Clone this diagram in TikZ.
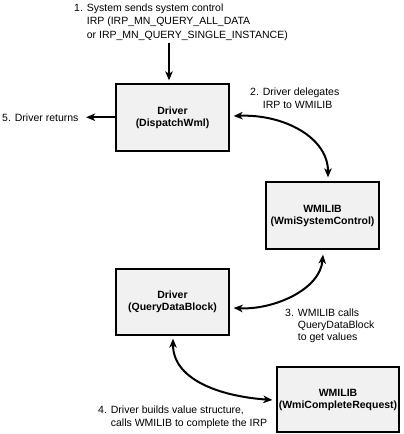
\documentclass[tikz,border=0pt]{standalone}
\usepackage{fontspec}
\setmainfont{Liberation Sans}
\usetikzlibrary{arrows.meta}
\definecolor{boxfill}{RGB}{241,241,241}
\tikzset{
  box/.style={draw=black, line width=1.3pt, fill=boxfill, inner sep=0pt, align=center,
    font=\fontsize{10.5}{12}\selectfont\bfseries},
  lbl/.style={inner sep=0pt, anchor=base west, align=left},
  arr/.style={line width=2pt, -{Stealth[length=9pt,width=7.5pt,inset=2.5pt]}},
  arrb/.style={line width=2pt, {Stealth[length=9pt,width=7.5pt,inset=2.5pt]}-{Stealth[length=9pt,width=7.5pt,inset=2.5pt]}}
}
\begin{document}
\begin{tikzpicture}[x=1pt,y=-1pt]
\useasboundingbox (0,0) rectangle (404,434);

% boxes
\node[box, minimum width=113pt, minimum height=67pt] (b1) at (172.5,117.5) {Driver\\(DispatchWml)};
\node[box, minimum width=113pt, minimum height=67pt] (b2) at (322.5,215.5) {WMILIB\\(WmiSystemControl)};
\node[box, minimum width=113pt, minimum height=66pt] (b3) at (172.5,302) {Driver\\(QueryDataBlock)};
\node[box, minimum width=122pt, minimum height=65pt] (b4) at (338,399.5) {WMILIB\\(WmiCompleteRequest)};

% labels (base anchor = baseline of the last line)
\node[lbl, font=\fontsize{10.5}{13.5}\selectfont] (t1) at (74,38)
  {1. System sends system control\\\hphantom{1. }IRP (IRP\_MN\_QUERY\_ALL\_DATA\\\hphantom{1. }or IRP\_MN\_QUERY\_SINGLE\_INSTANCE)};
\node[lbl, font=\fontsize{10.5}{13}\selectfont] (t2) at (250,108)
  {2. Driver delegates\\\hphantom{2. }IRP to WMILIB};
\node[lbl, font=\fontsize{10.5}{13}\selectfont] (t5) at (2,121) {5. Driver returns};
\node[lbl, font=\fontsize{10.5}{12}\selectfont] (t3) at (285,340)
  {3. WMILIB calls\\\hphantom{3. }QueryDataBlock\\\hphantom{3. }to get values};
\node[lbl, font=\fontsize{10.5}{12.5}\selectfont] (t4) at (98,426)
  {4. Driver builds value structure,\\\hphantom{4. }calls WMILIB to complete the IRP};

% connectors
\coordinate (s1) at (169,43);
\draw[arr, shorten >=3pt] (s1) -- (s1 |- b1.north);
\draw[arr, shorten >=7.5pt] (b1.west |- t5.east) -- (t5.east);
\draw[arrb] ([shift={(4,-1.5)}]b1.east) .. controls +(50,-2) and +(0,-40) .. ([shift={(5.5,-4)}]b2.north);
\draw[arrb] ([shift={(4,6)}]b3.east) .. controls +(40,2) and +(-3,35) .. ([shift={(0.5,5)}]b2.south);
\draw[arrb] ([shift={(0.5,3)}]b3.south) .. controls +(0,40) and +(-55,-4) .. ([shift={(-4,0.5)}]b4.west);
\end{tikzpicture}
\end{document}
